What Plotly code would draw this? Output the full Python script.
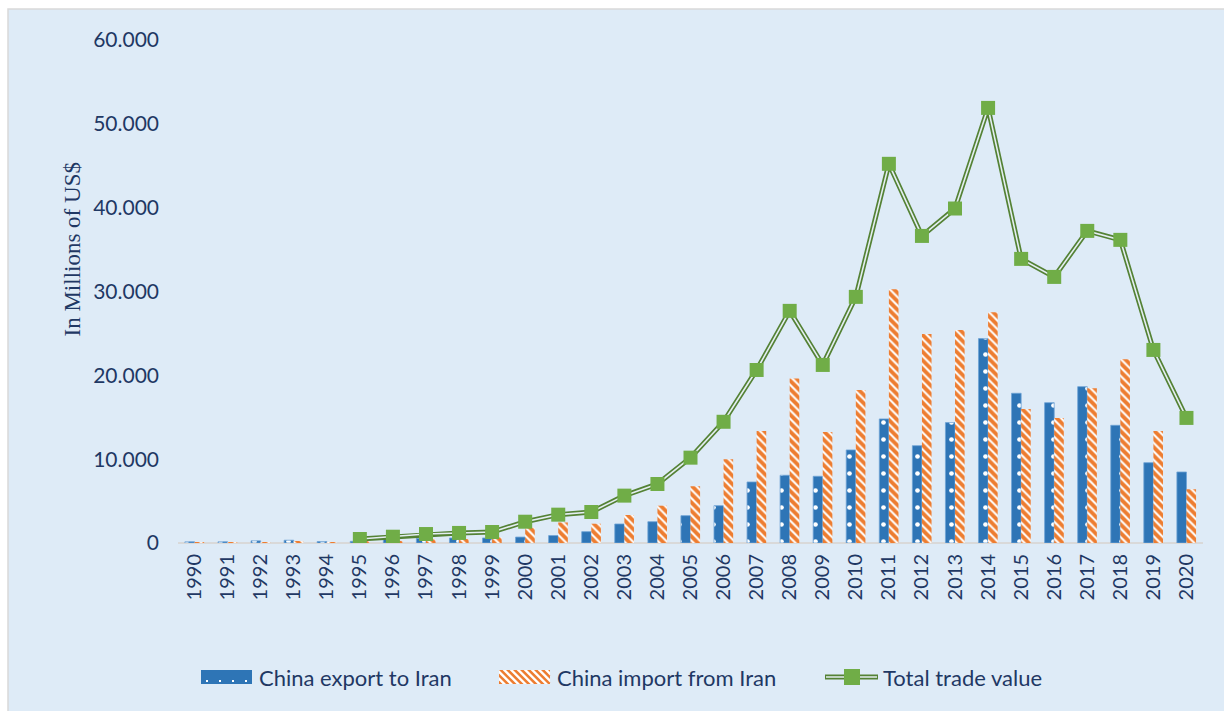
import plotly.graph_objects as go

years = [str(y) for y in range(1990, 2021)]

china_export = [150, 150, 260, 330, 180, 200, 450, 560, 600, 600, 710, 890, 1350, 2270, 2540,
                3260, 4450, 7280, 8080, 7960, 11100, 14800, 11610, 14360, 24380, 17860, 16740,
                18650, 14040, 9580, 8470]
china_import = [30, 20, 100, 230, 90, 180, 250, 450, 480, 680, 1830, 2450, 2300, 3340, 4450,
                6770, 9990, 13370, 19610, 13250, 18260, 30270, 24940, 25420, 27530, 15990, 14920,
                18460, 21920, 13370, 6410]
total_trade = [None, None, None, None, None, 480, 750, 1070, 1200, 1310, 2540, 3380, 3700, 5650,
               7040, 10180, 14460, 20640, 27690, 21240, 29360, 45230, 36630, 39900, 51900, 33890,
               31740, 37230, 36160, 23030, 14920]

y_ticks = [0, 10000, 20000, 30000, 40000, 50000, 60000]
legend_labels = ["China export to Iran", "China import from Iran", "Total trade value"]

BG = "#DEEBF7"
TEXT = "#1F3864"
BLUE = "#2E75B6"
ORANGE = "#ED7D31"
GREEN = "#70AD47"
DARK_GREEN = "#548235"
GAP = "#E4EEF2"

fig = go.Figure()

fig.add_trace(go.Bar(
    x=years, y=china_export, name=legend_labels[0],
    marker=dict(color=BLUE, line=dict(color="#6FA3D6", width=0.8),
                pattern=dict(shape=".", fgcolor="white", bgcolor=BLUE,
                             size=17, solidity=0.06, fillmode="replace")),
))
fig.add_trace(go.Bar(
    x=years, y=china_import, name=legend_labels[1],
    marker=dict(color=ORANGE, line=dict(width=0),
                pattern=dict(shape="\\", fgcolor=ORANGE, bgcolor="white",
                             size=6, solidity=0.65, fillmode="replace")),
))
# double line: thick dark green stroke with a thin light stroke on top
fig.add_trace(go.Scatter(
    x=years, y=total_trade, name=legend_labels[2], mode="lines",
    line=dict(color=DARK_GREEN, width=5),
))
fig.add_trace(go.Scatter(
    x=years, y=total_trade, mode="lines", hoverinfo="skip",
    line=dict(color=GAP, width=1.6),
))
fig.add_trace(go.Scatter(
    x=years, y=total_trade, mode="markers", hoverinfo="skip",
    marker=dict(symbol="square", size=14, color=GREEN, line=dict(width=0)),
))

L, R, T, B = 178, 21, 40, 168
W, H = 1224, 711
pw, ph = W - L - R, H - T - B


def px_x(p):
    return (p - L) / pw


def px_y(p):
    return (H - B - p) / ph


def paper_path(points):
    return "M " + " L ".join(f"{px_x(x):.5f},{px_y(y):.5f}" for x, y in points) + " Z"


def clip_poly(poly, x0, x1, y0, y1):
    # Sutherland-Hodgman clipping against an axis-aligned box
    def clip(pts, inside, inter):
        out = []
        for i in range(len(pts)):
            cur, prev = pts[i], pts[i - 1]
            if inside(cur):
                if not inside(prev):
                    out.append(inter(prev, cur))
                out.append(cur)
            elif inside(prev):
                out.append(inter(prev, cur))
        return out

    def ix(xc):
        return lambda a, b: (xc, a[1] + (b[1] - a[1]) * (xc - a[0]) / (b[0] - a[0]))

    def iy(yc):
        return lambda a, b: (a[0] + (b[0] - a[0]) * (yc - a[1]) / (b[1] - a[1]), yc)

    pts = poly
    for inside, inter in [(lambda p: p[0] >= x0, ix(x0)), (lambda p: p[0] <= x1, ix(x1)),
                          (lambda p: p[1] >= y0, iy(y0)), (lambda p: p[1] <= y1, iy(y1))]:
        if not pts:
            break
        pts = clip(pts, inside, inter)
    return pts


# chart frame
fig.add_shape(type="rect", xref="paper", yref="paper",
              x0=px_x(8), x1=px_x(1240), y0=px_y(9), y1=px_y(730),
              fillcolor=BG, line=dict(color="#D9D9D9", width=1.5), layer="below")

fig.add_annotation(text="In Millions of US$", xref="paper", yref="paper",
                   x=px_x(57), y=px_y(250), textangle=-90, showarrow=False,
                   font=dict(family="Liberation Serif, Times New Roman, serif", size=23, color=TEXT))

# legend row
ly, sh = 677, 7
# export swatch: solid blue with white dots
fig.add_shape(type="rect", xref="paper", yref="paper",
              x0=px_x(201), x1=px_x(252), y0=px_y(ly - sh), y1=px_y(ly + sh),
              fillcolor=BLUE, line=dict(width=0))
for dx in (207, 220, 233, 246):
    fig.add_shape(type="rect", xref="paper", yref="paper",
                  x0=px_x(dx - 1), x1=px_x(dx + 1), y0=px_y(ly + 3), y1=px_y(ly + 5),
                  fillcolor="white", line=dict(width=0))
# import swatch: white with orange diagonal stripes
sx0, sx1 = 499, 550
fig.add_shape(type="rect", xref="paper", yref="paper",
              x0=px_x(sx0), x1=px_x(sx1), y0=px_y(ly - sh), y1=px_y(ly + sh),
              fillcolor="white", line=dict(width=0))
a = sx0 - 2 * sh
while a < sx1:
    poly = [(a, ly - sh), (a + 3.6, ly - sh), (a + 3.6 + 2 * sh, ly + sh), (a + 2 * sh, ly + sh)]
    clipped = clip_poly(poly, sx0, sx1, ly - sh, ly + sh)
    if len(clipped) >= 3:
        fig.add_shape(type="path", xref="paper", yref="paper", path=paper_path(clipped),
                      fillcolor=ORANGE, line=dict(width=0))
    a += 7
# total swatch: double green line with square marker
fig.add_shape(type="line", xref="paper", yref="paper",
              x0=px_x(825), x1=px_x(878), y0=px_y(ly), y1=px_y(ly),
              line=dict(color=DARK_GREEN, width=5))
fig.add_shape(type="line", xref="paper", yref="paper",
              x0=px_x(826), x1=px_x(877), y0=px_y(ly), y1=px_y(ly),
              line=dict(color=GAP, width=1.6))
fig.add_shape(type="rect", xref="paper", yref="paper",
              x0=px_x(844), x1=px_x(860), y0=px_y(ly - 8), y1=px_y(ly + 8),
              fillcolor=GREEN, line=dict(width=0))

for label, tx in zip(legend_labels, (257, 555, 881)):
    fig.add_annotation(text=label, xref="paper", yref="paper", x=px_x(tx), y=px_y(ly),
                       xanchor="left", yanchor="middle", showarrow=False,
                       font=dict(size=22, color=TEXT))

fig.update_layout(
    width=W, height=H,
    margin=dict(l=L, r=R, t=T, b=B),
    paper_bgcolor="white", plot_bgcolor="rgba(0,0,0,0)",
    separators=",.",
    barmode="group", bargap=0.42, bargroupgap=0,
    font=dict(family="Lato, Open Sans, sans-serif", color=TEXT, size=20),
    showlegend=False,
    xaxis=dict(type="category", range=[-0.5, len(years) - 0.5], tickangle=-90,
               showgrid=False, showline=False, ticks="",
               tickfont=dict(size=20, color=TEXT), ticklabelstandoff=6),
    yaxis=dict(range=[0, 60000], tickvals=y_ticks, tickformat=",d", showgrid=False,
               showline=False, zeroline=True, zerolinecolor="#D9D9D9", zerolinewidth=2,
               ticks="", tickfont=dict(size=21, color=TEXT), ticklabelstandoff=18),
)

fig.write_html("out.html")
